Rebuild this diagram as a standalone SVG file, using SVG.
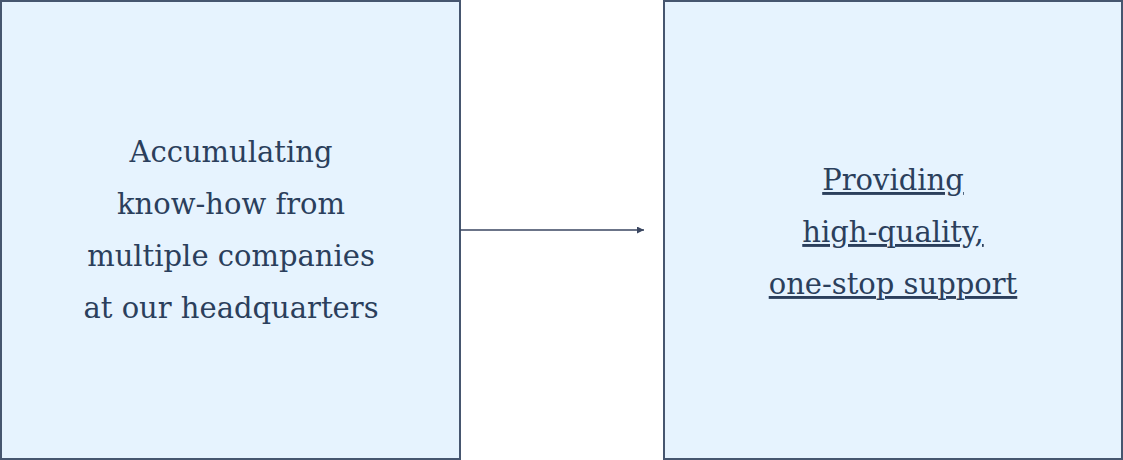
<svg xmlns="http://www.w3.org/2000/svg" width="1123" height="460" viewBox="0 0 1123 460">
<style>
.box{fill:#e6f3fe;stroke:#46566f;stroke-width:2}
.t{font-family:"DejaVu Serif","Liberation Serif",serif;font-size:29px;fill:#2b3f5c;text-anchor:middle}
.u{text-decoration:underline}
.conn{stroke:#3a4660;stroke-width:1.3;fill:none}
</style>
<defs>
<marker id="ah" viewBox="0 0 10 10" refX="10" refY="5" markerWidth="7" markerHeight="7" markerUnits="userSpaceOnUse" orient="auto">
<path d="M0,0 L10,5 L0,10 z" fill="#3a4660"/>
</marker>
</defs>
<g id="node-left">
<rect class="box" x="1" y="1" width="459" height="458"/>
<text class="t" x="231" y="162">Accumulating</text>
<text class="t" x="231" y="214">know-how from</text>
<text class="t" x="231" y="266">multiple companies</text>
<text class="t" x="231" y="318">at our headquarters</text>
</g>
<g id="node-right">
<rect class="box" x="664" y="1" width="458" height="458"/>
<text class="t u" x="893" y="190">Providing</text>
<text class="t u" x="893" y="242">high-quality,</text>
<text class="t u" x="893" y="294">one-stop support</text>
</g>
<g id="connectors">
<line class="conn" x1="460" y1="230" x2="644" y2="230" marker-end="url(#ah)"/>
</g>
</svg>
